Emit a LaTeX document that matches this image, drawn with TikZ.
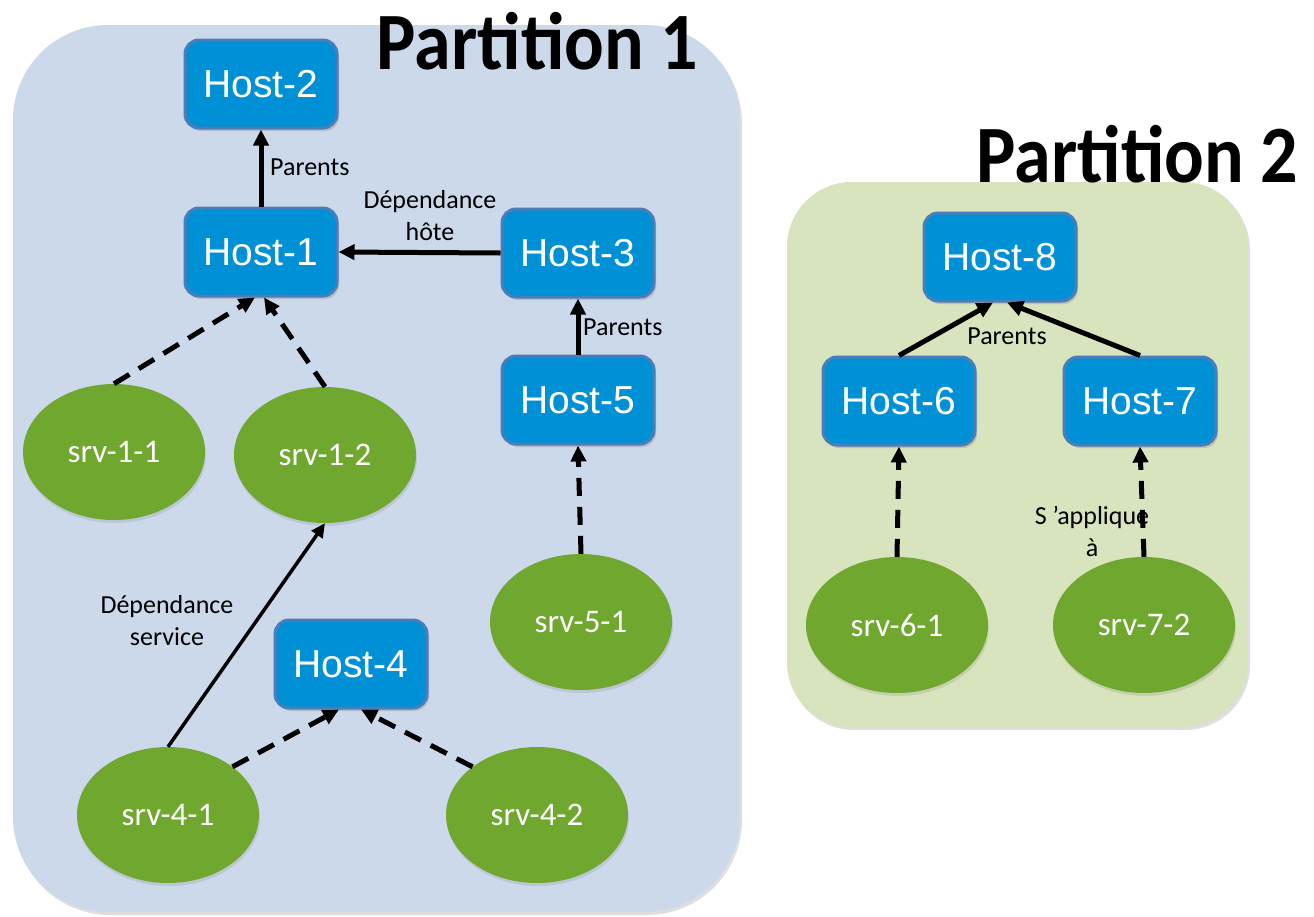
\documentclass[tikz,border=0pt]{standalone}
\usepackage{graphicx}
\usepackage{fontspec}
\setmainfont{Carlito}
\newfontfamily\arialf{Liberation Sans}
\usetikzlibrary{arrows.meta,shapes.geometric,shadows}
\definecolor{pone}{HTML}{CCD9EA}
\definecolor{ptwo}{HTML}{D7E4BD}
\definecolor{hostfill}{HTML}{0090D6}
\definecolor{hostdraw}{HTML}{4A7EBB}
\definecolor{srvfill}{HTML}{6FA72F}
\begin{document}
\begin{tikzpicture}[x=1pt,y=-1pt,
  partbox/.style={rounded corners=#1, drop shadow={opacity=0.25, shadow xshift=2pt, shadow yshift=-3pt}},
  hostbox/.style={rectangle, rounded corners=14pt, fill=hostfill, draw=hostdraw, line width=3pt,
    minimum width=152pt, minimum height=88pt, inner sep=0pt, text=white,
    font=\arialf\fontsize{39}{39}\selectfont,
    drop shadow={opacity=0.3, shadow xshift=2pt, shadow yshift=-3pt}},
  srv/.style={ellipse, fill=srvfill, minimum width=182pt, minimum height=136pt, inner sep=0pt,
    text=white, font=\fontsize{33}{33}\selectfont,
    drop shadow={opacity=0.2, shadow xshift=1pt, shadow yshift=-3pt}},
  lbl/.style={font=\fontsize{26}{32}\selectfont, text=black, inner sep=0pt, align=center},
  title/.style={font=\bfseries\fontsize{74}{74}\selectfont, inner sep=0pt, anchor=base},
  solidarrow/.style={line width=5pt, -{Triangle[length=16pt,width=15pt]}},
  thinarrow/.style={line width=3.5pt, -{Triangle[length=14pt,width=13pt]}},
  dasharrow/.style={line width=5pt, dash pattern=on 18pt off 11pt, -{Triangle[length=16pt,width=15pt]}}
]
\useasboundingbox (0,0) rectangle (1314,916);
\fill[white] (0,0) rectangle (1314,916);

% partition backgrounds
\fill[pone, partbox=95pt] (13,25) rectangle (740,912);
\fill[ptwo, partbox=65pt] (787,182) rectangle (1248,727);

% titles
\node[title] (t1) at (537.5,69) {\scalebox{1}[1.1]{Partition 1}};
\node[title] (t2) at (1137.5,182) {\scalebox{1}[1.1]{Partition 2}};

% hosts
\node[hostbox] (h2) at (261,84) {Host-2};
\node[hostbox] (h1) at (261,252) {Host-1};
\node[hostbox] (h3) at (578,253) {Host-3};
\node[hostbox] (h5) at (578,400) {Host-5};
\node[hostbox] (h4) at (351,664) {Host-4};
\node[hostbox] (h8) at (1000,257) {Host-8};
\node[hostbox] (h6) at (899,401) {Host-6};
\node[hostbox] (h7) at (1140,401) {Host-7};

% services
\node[srv] (s11) at (114,452) {srv-1-1};
\node[srv] (s12) at (325,455) {srv-1-2};
\node[srv] (s51) at (581,622) {srv-5-1};
\node[srv] (s41) at (168,815) {srv-4-1};
\node[srv] (s42) at (537,815) {srv-4-2};
\node[srv] (s61) at (897,625) {srv-6-1};
\node[srv] (s72) at (1144,625) {srv-7-2};

% connectors partition 1
\draw[solidarrow] (h1.north) -- (h2.south);
\draw[solidarrow] (h3.west) -- (h1.east);
\draw[solidarrow] (h5.north) -- (h3.south);
\draw[dasharrow] (s51.north) -- (h5.south);
\draw[dasharrow] (s11.north) -- ([xshift=-6pt]h1.south);
\draw[dasharrow] (s12.north) -- ([xshift=3pt]h1.south);
\draw[thinarrow] (s41.north) -- (s12.south);
\draw[dasharrow] (s41.north east) -- ([xshift=-12pt]h4.south);
\draw[dasharrow] (s42.north west) -- ([xshift=10pt]h4.south);

% connectors partition 2
\draw[solidarrow] (h6.north) -- ([xshift=-7pt]h8.south);
\draw[solidarrow] (h7.north) -- ([xshift=7pt]h8.south);
\draw[dasharrow] (s61.north) -- (h6.south);
\draw[dasharrow] (s72.north) -- (h7.south);

% labels
\node[lbl, anchor=west] (l1) at (270,167) {Parents};
\node[lbl] (l2) at (430,216) {Dépendance\\hôte};
\node[lbl, anchor=west] (l3) at (583,327) {Parents};
\node[lbl] (l4) at (167,621) {Dépendance\\service};
\node[lbl] (l5) at (1007,336) {Parents};
\node[lbl] (l6) at (1092,531) {S ’applique\\à};
\end{tikzpicture}
\end{document}
